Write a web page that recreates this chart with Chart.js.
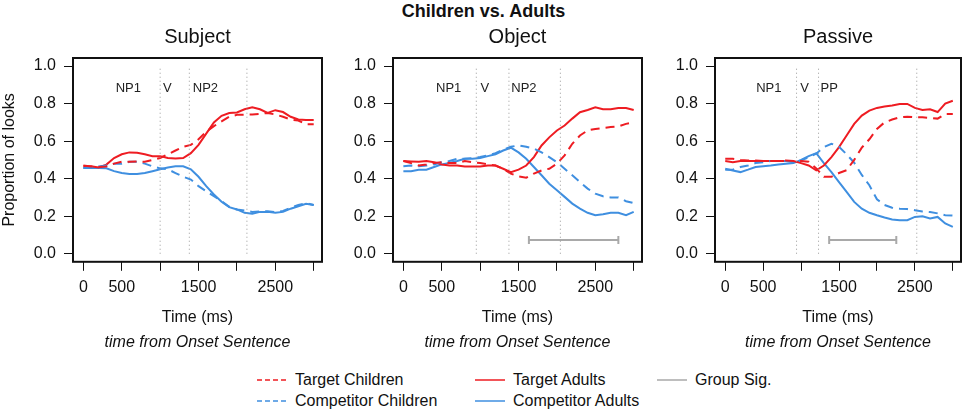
<!DOCTYPE html>
<html>
<head>
<meta charset="utf-8">
<script src="https://cdn.jsdelivr.net/npm/chart.js@4.4.1/dist/chart.umd.min.js"></script>
<style>
  body { margin: 0; background: #fff; width: 967px; height: 412px; overflow: hidden; position: relative;
         font-family: "Liberation Sans", Arial, sans-serif; color: #111; }
  canvas { position: absolute; top: 0; }
  #main { position: absolute; left: 0; top: 1px; width: 967px; text-align: center; font-weight: bold; font-size: 18px; }
  .leg { position: absolute; height: 20px; line-height: 20px; font-size: 16px; white-space: nowrap; }
  .leg svg { position: absolute; left: 0; top: 8px; }
  .leg span { position: absolute; }
</style>
</head>
<body>
<div id="main">Children vs. Adults</div>
<canvas id="c1" width="330" height="360" style="left:0px"></canvas>
<canvas id="c2" width="322" height="360" style="left:330px"></canvas>
<canvas id="c3" width="315" height="360" style="left:652px"></canvas>
<div id="legend"></div>

<script>
// time axis (ms), one value every 100 ms
const timeMs = [0,100,200,300,400,500,600,700,800,900,1000,1100,1200,1300,1400,1500,
                1600,1700,1800,1900,2000,2100,2200,2300,2400,2500,2600,2700,2800,2900,3000];

// Subject
const subjTargetChildren = [0.470,0.465,0.462,0.465,0.480,0.490,0.490,0.492,0.490,0.500,0.510,0.530,0.550,0.570,0.580,0.610,
                            0.650,0.680,0.705,0.730,0.740,0.740,0.742,0.745,0.750,0.742,0.730,0.715,0.710,0.690,0.690];
const subjCompChildren   = [0.457,0.460,0.465,0.470,0.480,0.480,0.490,0.490,0.480,0.466,0.455,0.450,0.430,0.410,0.395,0.360,
                            0.333,0.307,0.280,0.250,0.236,0.230,0.223,0.226,0.226,0.222,0.228,0.245,0.260,0.270,0.260];
const subjTargetAdults   = [0.466,0.466,0.460,0.475,0.510,0.530,0.540,0.538,0.530,0.520,0.520,0.510,0.508,0.510,0.536,0.580,
                            0.640,0.700,0.735,0.750,0.753,0.770,0.780,0.770,0.750,0.765,0.755,0.730,0.715,0.713,0.713];
const subjCompAdults     = [0.457,0.457,0.457,0.455,0.440,0.430,0.425,0.425,0.430,0.440,0.450,0.460,0.466,0.466,0.450,0.410,
                            0.360,0.316,0.277,0.248,0.236,0.218,0.213,0.223,0.223,0.218,0.223,0.240,0.253,0.266,0.260];

// Object
const objTargetChildren = [0.494,0.483,0.470,0.476,0.483,0.488,0.483,0.483,0.494,0.488,0.483,0.476,0.470,0.453,0.427,0.412,
                           0.405,0.427,0.444,0.453,0.480,0.524,0.586,0.630,0.657,0.665,0.670,0.675,0.678,0.692,0.700];
const objCompChildren   = [0.466,0.470,0.466,0.470,0.476,0.488,0.494,0.506,0.506,0.510,0.515,0.524,0.536,0.554,0.570,0.577,
                           0.570,0.560,0.540,0.515,0.488,0.453,0.418,0.382,0.347,0.320,0.306,0.300,0.300,0.280,0.270];
const objTargetAdults   = [0.494,0.492,0.490,0.494,0.488,0.476,0.470,0.470,0.465,0.465,0.465,0.470,0.470,0.453,0.435,0.448,
                           0.470,0.515,0.577,0.620,0.657,0.683,0.720,0.754,0.766,0.780,0.770,0.770,0.777,0.777,0.766];
const objCompAdults     = [0.440,0.440,0.448,0.448,0.462,0.476,0.483,0.494,0.506,0.506,0.510,0.520,0.530,0.550,0.565,0.540,
                           0.506,0.462,0.418,0.373,0.338,0.303,0.267,0.240,0.218,0.205,0.210,0.218,0.218,0.205,0.223];

// Passive
const passTargetChildren = [0.506,0.506,0.500,0.497,0.497,0.494,0.494,0.494,0.497,0.494,0.494,0.490,0.455,0.410,0.410,0.430,
                            0.445,0.500,0.565,0.610,0.665,0.700,0.715,0.727,0.730,0.727,0.727,0.724,0.720,0.745,0.745];
const passCompChildren   = [0.448,0.448,0.462,0.470,0.483,0.488,0.494,0.494,0.494,0.488,0.497,0.515,0.533,0.568,0.586,0.570,
                            0.530,0.485,0.420,0.365,0.290,0.260,0.245,0.240,0.238,0.232,0.225,0.222,0.215,0.205,0.203];
const passTargetAdults   = [0.494,0.488,0.494,0.494,0.494,0.494,0.494,0.494,0.494,0.494,0.483,0.470,0.444,0.470,0.515,0.568,
                            0.630,0.692,0.736,0.763,0.777,0.784,0.790,0.798,0.798,0.777,0.766,0.770,0.755,0.800,0.815];
const passCompAdults     = [0.453,0.444,0.435,0.448,0.462,0.466,0.470,0.476,0.480,0.483,0.500,0.520,0.536,0.483,0.435,0.382,
                            0.330,0.276,0.240,0.218,0.205,0.193,0.182,0.179,0.179,0.196,0.200,0.188,0.196,0.161,0.143];

// sentence region boundaries (ms) and their labels
const subjBounds = [1000, 1380, 2130];
const objBounds  = [950, 1375, 2045];
const passBounds = [940, 1230, 2525];
const subjRegions = ['NP1', 'V', 'NP2'];
const objRegions  = ['NP1', 'V', 'NP2'];
const passRegions = ['NP1', 'V', 'PP'];
const subjRegionAt = [585, 1095, 1590];
const objRegionAt  = [590, 1060, 1570];
const passRegionAt = [575, 1045, 1370];
const regionLevel = 0.88;

// group significance windows (ms)
const objSig  = [1635, 2800];
const passSig = [1370, 2255];
const sigLevel = 0.073;

const xTicks = [0, 500, 1000, 1500, 2000, 2500, 3000];
const xTickLabels = [0, 500, 1500, 2500];
const yTicks = [0, 0.2, 0.4, 0.6, 0.8, 1.0];

const RED = '#ee1c22';
const BLUE = '#3f8fe0';
const GREY = '#a9a9a9';

const regionLabels = {
  id: 'regionLabels',
  afterDatasetsDraw(chart, args, o) {
    const { ctx, scales: { x, y } } = chart;
    ctx.save();
    ctx.font = '13px "Liberation Sans", Arial, sans-serif';
    ctx.fillStyle = '#222';
    ctx.textAlign = 'center';
    ctx.textBaseline = 'middle';
    o.text.forEach((t, i) => ctx.fillText(t, x.getPixelForValue(o.at[i]), y.getPixelForValue(regionLevel)));
    ctx.restore();
  }
};

const frame = {
  id: 'frame',
  afterDraw(chart) {
    const { ctx, chartArea: a } = chart;
    ctx.save();
    ctx.strokeStyle = '#111';
    ctx.lineWidth = 2;
    ctx.strokeRect(a.left, a.top, a.right - a.left, a.bottom - a.top);
    ctx.restore();
  }
};

function pts(arr) {
  return timeMs.map((t, i) => ({ x: t, y: arr[i] }));
}

function makePanel(id, title, s, bounds, regions, regionAt, sig, showYTitle, yWidth, rightPad) {
  const datasets = [];
  bounds.forEach(b => datasets.push({
    data: [{ x: b, y: 0 }, { x: b, y: 1 }],
    borderColor: '#999', borderWidth: 1, borderDash: [1, 3], pointRadius: 0
  }));
  datasets.push({ data: pts(s.tc), borderColor: RED, borderWidth: 2, borderDash: [9, 6], pointRadius: 0 });
  datasets.push({ data: pts(s.cc), borderColor: BLUE, borderWidth: 2, borderDash: [9, 6], pointRadius: 0 });
  datasets.push({ data: pts(s.ta), borderColor: RED, borderWidth: 2, pointRadius: 0 });
  datasets.push({ data: pts(s.ca), borderColor: BLUE, borderWidth: 2, pointRadius: 0 });
  if (sig) {
    datasets.push({
      data: [{ x: sig[0], y: sigLevel }, { x: sig[1], y: sigLevel }],
      borderColor: GREY, borderWidth: 2, pointStyle: 'line', rotation: 90,
      pointRadius: 4, pointBorderColor: GREY, pointBorderWidth: 2
    });
  }

  new Chart(document.getElementById(id), {
    type: 'line',
    data: { datasets },
    plugins: [regionLabels, frame],
    options: {
      responsive: false,
      animation: false,
      layout: { padding: { left: 0, right: rightPad, top: 0, bottom: 0 } },
      plugins: {
        legend: { display: false },
        tooltip: { enabled: false },
        title: {
          display: true, text: title, fullSize: false, color: '#111',
          font: { size: 20, weight: 'normal', family: '"Liberation Sans", Arial, sans-serif' },
          padding: { top: 25, bottom: 9 }
        },
        subtitle: {
          display: true, position: 'bottom', text: 'time from Onset Sentence', fullSize: false, color: '#111',
          font: { size: 16, style: 'italic', family: '"Liberation Sans", Arial, sans-serif' },
          padding: { top: 6, bottom: 8 }
        },
        regionLabels: { text: regions, at: regionAt }
      },
      scales: {
        x: {
          type: 'linear', min: -135, max: 3108,
          afterBuildTicks: sc => { sc.ticks = xTicks.map(v => ({ value: v })); },
          afterFit: sc => { sc.height = 65; },
          ticks: {
            autoSkip: false, maxRotation: 0, padding: 7, color: '#111',
            font: { size: 16, family: '"Liberation Sans", Arial, sans-serif' },
            callback: v => xTickLabels.includes(v) ? String(v) : ''
          },
          grid: { drawOnChartArea: false, drawTicks: true, tickLength: 9, color: '#111' },
          border: { display: false },
          title: {
            display: true, text: 'Time (ms)', color: '#111',
            font: { size: 16, family: '"Liberation Sans", Arial, sans-serif' },
            padding: { top: 0, bottom: 0 }
          }
        },
        y: {
          min: -0.043, max: 1.043,
          afterBuildTicks: sc => { sc.ticks = yTicks.map(v => ({ value: v })); },
          afterFit: sc => { sc.width = yWidth; },
          ticks: {
            padding: 8, color: '#111',
            font: { size: 16, family: '"Liberation Sans", Arial, sans-serif' },
            callback: v => v.toFixed(1)
          },
          grid: { drawOnChartArea: false, drawTicks: true, tickLength: 9, color: '#111' },
          border: { display: false },
          title: {
            display: showYTitle, text: 'Proportion of looks', color: '#111',
            font: { size: 16, family: '"Liberation Sans", Arial, sans-serif' },
            padding: { top: 0, bottom: 0 }
          }
        }
      }
    }
  });
}

makePanel('c1', 'Subject',
  { tc: subjTargetChildren, cc: subjCompChildren, ta: subjTargetAdults, ca: subjCompAdults },
  subjBounds, subjRegions, subjRegionAt, null, true, 73, 8);
makePanel('c2', 'Object',
  { tc: objTargetChildren, cc: objCompChildren, ta: objTargetAdults, ca: objCompAdults },
  objBounds, objRegions, objRegionAt, objSig, false, 63, 10);
makePanel('c3', 'Passive',
  { tc: passTargetChildren, cc: passCompChildren, ta: passTargetAdults, ca: passCompAdults },
  passBounds, passRegions, passRegionAt, passSig, false, 63, 3);

// shared legend below the panels
const legendLabels = ['Target Children', 'Competitor Children', 'Target Adults', 'Competitor Adults', 'Group Sig.'];
const legendColors = [RED, BLUE, RED, BLUE, GREY];
const legendDashed = [true, true, false, false, false];
const legendLeft = [257, 257, 475, 475, 657];
const legendTop = [370, 391, 370, 391, 370];
const legendTextGap = [38, 38, 38, 38, 38];

const legend = document.getElementById('legend');
legendLabels.forEach((lab, i) => {
  const d = document.createElement('div');
  d.className = 'leg';
  d.style.left = legendLeft[i] + 'px';
  d.style.top = legendTop[i] + 'px';
  const dash = legendDashed[i] ? ' stroke-dasharray="5 3"' : '';
  d.innerHTML = '<svg width="30" height="4"><line x1="0" y1="2" x2="30" y2="2" stroke="' + legendColors[i] +
    '" stroke-width="1.5"' + dash + '/></svg><span style="left:' + legendTextGap[i] + 'px">' + lab + '</span>';
  legend.appendChild(d);
});
</script>
</body>
</html>
